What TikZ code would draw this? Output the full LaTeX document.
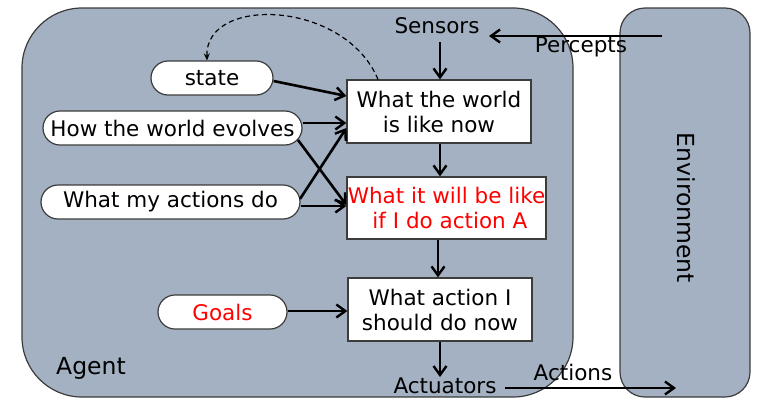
\documentclass[tikz,border=0pt]{standalone}
\usepackage{fontspec}
\setmainfont{DejaVu Sans}
\usetikzlibrary{arrows.meta}
\definecolor{panel}{RGB}{163,177,194}
\definecolor{edge}{RGB}{60,60,60}
\begin{document}
\begin{tikzpicture}[x=1pt,y=-1pt,
  txt/.style={font=\fontsize{21.5}{25}\selectfont, inner sep=0pt},
  bigtxt/.style={font=\fontsize{23.5}{27}\selectfont, inner sep=0pt},
  box/.style={draw=edge, line width=1.2pt, fill=white, align=center, inner sep=0pt, font=\fontsize{21.5}{25}\selectfont},
  pill/.style={draw=edge, line width=1.2pt, fill=white, rounded corners=17pt, inner sep=0pt, minimum height=34pt, font=\fontsize{21.5}{25}\selectfont},
  arr/.style={line width=2.6pt, -{Straight Barb[length=9pt,width=13pt,line width=2.4pt]}},
]
\useasboundingbox (0,0) rectangle (766,407);
% panels
\draw[draw=edge, line width=1.2pt, fill=panel, rounded corners=60pt] (22,8) rectangle (573,397);
\draw[draw=edge, line width=1.2pt, fill=panel, rounded corners=25pt] (620,8) rectangle (750,397);
\node[bigtxt, rotate=-90] (env) at (686,208) {Environment};
\node[bigtxt] (agent) at (91,368) {Agent};

% labels
\node[txt] (sensors) at (437,26) {Sensors};
\node[txt] (actuators) at (445,386) {Actuators};
\coordinate (pstart) at (662,36);
\coordinate (pend) at (489,36);
\coordinate (sdown) at (440,42);
\coordinate (adown) at (440,377);
\coordinate (astart) at (505,388);
\coordinate (aend) at (676,388);

% boxes
\node[box, minimum width=184pt, minimum height=63pt] (b1) at (439,111.5) {What the world\\is like now};
\node[box, minimum width=199pt, minimum height=62pt, text=red] (b2) at (446.5,208) {What it will be like\\\ if I do action A};
\node[box, minimum width=184pt, minimum height=63pt] (b3) at (440,309.5) {What action I\\should do now};

% pills
\node[pill, minimum width=122pt] (state) at (212,78) {state};
\node[pill, minimum width=259pt] (how) at (172.5,128) {How the world evolves};
\node[pill, minimum width=259pt] (what) at (170.5,202) {What my actions do};
\node[pill, minimum width=129pt, text=red] (goals) at (222.5,312) {Goals};

% arrows
\draw[arr] (pstart) -- (pend);
\node[txt] (perc) at (581,47) {Percepts};
\draw[arr] (sdown) -- (b1.north -| sdown);
\draw[arr] (b1.south -| 440,0) -- (b2.north -| 440,0);
\draw[arr] (b2.south -| 438,0) -- (b3.north -| 438,0);
\draw[arr] (b3.south -| adown) -- (adown);
\draw[arr] (astart) -- (aend);
\node[txt] (actions) at (573,372) {Actions};

\draw[arr] (state.east |- 0,81) -- (b1.west |- 0,96);
\draw[arr] (how.east |- 0,123) -- (b1.west |- 0,123);
\draw[arr] (298,140) -- (b2.west |- 0,205);
\draw[arr] (300,199) -- (b1.west |- 0,128);
\draw[arr] (what.east |- 0,206) -- (b2.west |- 0,206);
\draw[arr] (goals.east |- 0,311) -- (b3.west |- 0,311);

% dashed feedback
\draw[dash pattern=on 5pt off 3.5pt, line width=1.2pt, -{Stealth[length=7pt,width=6pt]}] (b1.north -| 378,0) .. controls (345,0) and (205,-5) .. (state.north -| 207,0);
\end{tikzpicture}
\end{document}
